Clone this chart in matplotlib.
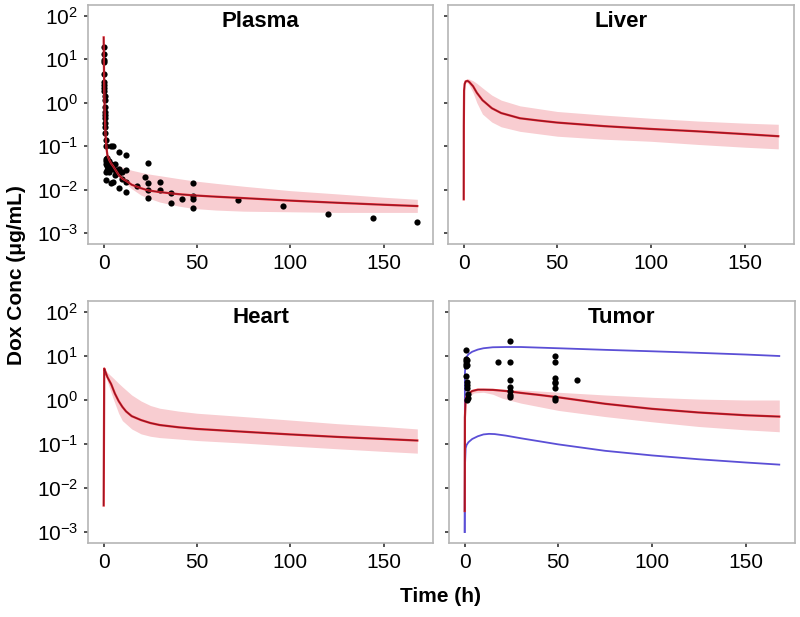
import numpy as np
import matplotlib
matplotlib.use("Agg")
import matplotlib.pyplot as plt
from matplotlib.ticker import FixedLocator, NullLocator

plt.rcParams['font.family'] = ['Liberation Sans', 'DejaVu Sans']
plt.rcParams['mathtext.fontset'] = 'custom'
plt.rcParams['mathtext.rm'] = 'Liberation Sans'
plt.rcParams['mathtext.it'] = 'Liberation Sans:italic'
plt.rcParams['mathtext.bf'] = 'Liberation Sans:bold'
plt.rcParams['mathtext.default'] = 'regular'

# ---------------- data ----------------
# Plasma
plasma_t = [0, 0.1, 0.25, 0.5, 1, 1.5, 2, 3, 4, 5, 6, 8, 10, 12, 15, 20, 24, 30, 40, 48, 60, 75, 100, 125, 150, 168]
plasma_med = [32, 10, 3, 0.7, 0.18, 0.09, 0.062, 0.048, 0.040, 0.035, 0.030, 0.022, 0.018, 0.016, 0.013, 0.0108,
              0.0096, 0.0088, 0.0079, 0.0074, 0.0069, 0.0064, 0.0056, 0.0050, 0.0045, 0.0042]
plasma_band_t = [0, 0.5, 1, 2, 4, 6, 8, 10, 12, 15, 20, 24, 30, 40, 48, 60, 75, 100, 125, 150, 168]
plasma_hi = [32, 0.75, 0.2, 0.066, 0.046, 0.040, 0.036, 0.033, 0.031, 0.028, 0.025, 0.023, 0.021, 0.018, 0.016,
             0.014, 0.012, 0.0095, 0.008, 0.0067, 0.006]
plasma_lo = [32, 0.65, 0.16, 0.058, 0.036, 0.026, 0.019, 0.016, 0.0135, 0.0105, 0.0075, 0.0064, 0.0052, 0.0042,
             0.0037, 0.0034, 0.0032, 0.0031, 0.0030, 0.0030, 0.0030]
plasma_obs_t = [0.083, 0.083, 0.083, 0.083, 0.25, 0.25, 0.25, 0.25, 0.25, 0.5, 0.5, 0.5, 0.5, 0.5, 0.5, 0.75, 0.75,
                0.75, 1, 1,
                1, 1, 1, 1, 1.5, 2, 2, 2, 2, 3, 3, 3, 4, 4, 4, 4, 5, 5, 5, 6, 6, 6, 8, 8, 8, 8, 10, 10, 12, 12, 12, 12,
                18, 22, 24, 24, 24, 24, 30, 30, 36, 36, 42, 48, 48, 48, 48, 72, 96, 120, 144, 168]
plasma_obs_c = [19, 13.4, 9.8, 8.7, 4.5, 3.0, 2.6, 2.2, 1.9, 1.4, 1.16, 0.81, 0.6, 0.52, 0.44, 0.35, 0.28, 0.2,
                0.14, 0.1,
                0.05, 0.045, 0.038, 0.025, 0.017, 0.055, 0.042, 0.035, 0.028, 0.045, 0.032, 0.025, 0.1, 0.04, 0.03,
                0.014, 0.1, 0.035, 0.015, 0.04, 0.028, 0.022, 0.074, 0.03, 0.024, 0.0107, 0.025, 0.018, 0.062, 0.028,
                0.015, 0.0089, 0.0123, 0.02, 0.042, 0.014, 0.0096, 0.0065, 0.015, 0.0096, 0.0083, 0.0049, 0.0062,
                0.0145, 0.0070, 0.0062, 0.0037, 0.0057, 0.0043, 0.0027, 0.0022, 0.0018]

# Liver
liver_t = [0, 0.05, 0.2, 0.5, 1, 2, 3, 5, 7, 10, 15, 20, 30, 40, 50, 75, 100, 125, 150, 168]
liver_med = [0.006, 0.3, 1.9, 2.7, 3.1, 3.2, 3.0, 2.4, 1.7, 1.15, 0.75, 0.58, 0.44, 0.39, 0.35, 0.29, 0.25, 0.22,
             0.19, 0.17]
liver_band_t = [0.5, 1, 2, 3, 5, 7, 10, 15, 20, 30, 50, 75, 100, 125, 150, 168]
liver_hi = [2.9, 3.4, 3.6, 3.5, 3.2, 2.8, 2.2, 1.5, 1.15, 0.85, 0.63, 0.52, 0.44, 0.38, 0.34, 0.32]
liver_lo = [2.5, 2.9, 2.9, 2.5, 1.7, 1.0, 0.55, 0.36, 0.28, 0.22, 0.17, 0.145, 0.13, 0.11, 0.095, 0.087]

# Heart
heart_t = [0, 0.3, 1, 2, 4, 6, 8, 10, 12, 15, 20, 25, 30, 40, 50, 75, 100, 125, 150, 168]
heart_med = [0.004, 5.2, 4.3, 3.3, 2.3, 1.4, 0.95, 0.7, 0.55, 0.43, 0.35, 0.30, 0.27, 0.24, 0.22, 0.19, 0.165,
             0.145, 0.13, 0.12]
heart_band_t = [0.3, 2, 5, 8, 10, 15, 20, 25, 30, 40, 50, 75, 100, 125, 150, 168]
heart_hi = [5.3, 4.2, 3.2, 2.4, 2.0, 1.3, 0.95, 0.75, 0.65, 0.56, 0.50, 0.42, 0.35, 0.29, 0.25, 0.22]
heart_lo = [5.1, 2.6, 1.1, 0.5, 0.34, 0.22, 0.17, 0.15, 0.14, 0.13, 0.12, 0.105, 0.09, 0.078, 0.068, 0.062]

# Tumor
tumor_t = [0, 0.1, 0.5, 1, 2, 4, 7, 10, 15, 22, 30, 40, 50, 75, 100, 125, 150, 168]
tumor_med = [0.003, 0.4, 1.0, 1.2, 1.4, 1.6, 1.72, 1.72, 1.7, 1.6, 1.45, 1.3, 1.15, 0.82, 0.63, 0.52, 0.45, 0.42]
tumor_band_t = [0.5, 2, 5, 10, 15, 20, 30, 50, 75, 100, 125, 150, 168]
tumor_hi = [1.1, 1.6, 1.8, 1.8, 1.78, 1.75, 1.7, 1.5, 1.3, 1.15, 1.05, 1.0, 1.0]
tumor_lo = [0.9, 1.2, 1.45, 1.5, 1.35, 1.1, 0.85, 0.58, 0.42, 0.32, 0.25, 0.21, 0.19]
tumor_up_t = [0, 0.1, 0.5, 1, 2, 4, 7, 10, 15, 22, 30, 50, 75, 100, 125, 150, 168]
tumor_up = [0.001, 4, 8, 9.5, 11, 12.5, 14, 15, 15.8, 16, 16, 15, 13.8, 12.8, 11.8, 10.8, 10]
tumor_low_t = [0, 0.1, 0.5, 1, 2, 4, 7, 10, 13, 16, 22, 30, 40, 50, 75, 100, 125, 150, 168]
tumor_low = [0.001, 0.03, 0.08, 0.095, 0.11, 0.13, 0.15, 0.165, 0.17, 0.168, 0.155, 0.135, 0.115, 0.098, 0.07,
             0.055, 0.045, 0.038, 0.034]
tumor_obs_t = [0.5, 0.5, 0.5, 0.5, 0.5, 0.5, 1, 1, 1, 1, 1, 1, 2, 2, 18, 24, 24, 24, 24, 24, 24, 24,
               48, 48, 48, 48, 48, 48, 48, 48, 60]
tumor_obs_c = [13.5, 8.5, 7.6, 6.7, 5.9, 3.6, 8.0, 6.3, 2.6, 2.2, 1.9, 1.0, 1.4, 1.1, 7.4, 21.7, 7.4, 2.8, 2.0,
               1.6, 1.3, 1.2, 10.2, 7.2, 3.2, 2.6, 2.4, 1.9, 1.1, 1.0, 2.8]

titles = ["Plasma", "Liver", "Heart", "Tumor"]
ytick_vals = [1e-3, 1e-2, 1e-1, 1e0, 1e1, 1e2]
ytick_labels = ["$10^{-3}$", "$10^{-2}$", "$10^{-1}$", "$10^{0}$", "$10^{1}$", "$10^{2}$"]
xtick_vals = [0, 50, 100, 150]

# ---------------- style ----------------
RED = '#e0202a'
DARK = '#7a1525'
BAND = '#f8cdd1'
BLUE = '#5b4fd6'
FRAME = '#b5b5b5'

fig = plt.figure(figsize=(8.0, 6.17), dpi=100)
W, H = 800, 617
boxes = [(88, 5, 433, 244), (448, 5, 794, 244), (88, 301, 433, 543), (449, 301, 795, 543)]
axes = []
for (x0, y0, x1, y1) in boxes:
    ax = fig.add_axes([x0 / W, 1 - y1 / H, (x1 - x0) / W, (y1 - y0) / H])
    axes.append(ax)


def draw_med(ax, t, v):
    ax.plot(t, v, color=RED, lw=1.6, zorder=3, solid_joinstyle='round')
    ax.plot(t, v, color=DARK, lw=0.6, zorder=4, solid_joinstyle='round')


ax = axes[0]
ax.fill_between(plasma_band_t, plasma_lo, plasma_hi, color=BAND, lw=0, zorder=1)
ax.scatter(plasma_obs_t, plasma_obs_c, s=20, color='black', zorder=2, lw=0)
draw_med(ax, plasma_t, plasma_med)

ax = axes[1]
ax.fill_between(liver_band_t, liver_lo, liver_hi, color=BAND, lw=0, zorder=1)
draw_med(ax, liver_t, liver_med)

ax = axes[2]
ax.fill_between(heart_band_t, heart_lo, heart_hi, color=BAND, lw=0, zorder=1)
draw_med(ax, heart_t, heart_med)

ax = axes[3]
ax.fill_between(tumor_band_t, tumor_lo, tumor_hi, color=BAND, lw=0, zorder=1)
ax.plot(tumor_up_t, tumor_up, color=BLUE, lw=1.3, zorder=3)
ax.plot(tumor_low_t, tumor_low, color=BLUE, lw=1.3, zorder=3)
draw_med(ax, tumor_t, tumor_med)
ax.scatter(tumor_obs_t, tumor_obs_c, s=20, color='black', zorder=5, lw=0)

for i, ax in enumerate(axes):
    ax.set_yscale('log')
    ax.set_xlim(-8.4, 176.4)
    ax.set_ylim(10 ** -3.25, 10 ** 2.25)
    ax.yaxis.set_major_locator(FixedLocator(ytick_vals))
    ax.yaxis.set_minor_locator(NullLocator())
    ax.set_xticks(xtick_vals)
    for s in ax.spines.values():
        s.set_color(FRAME)
        s.set_linewidth(1.2)
    ax.tick_params(axis='both', direction='out', length=3, width=1.2, color='#333333',
                   labelsize=15, pad=4)
    if i in (0, 2):
        ax.set_yticklabels(ytick_labels)
    else:
        ax.set_yticklabels([])
    ax.set_xticklabels([str(v) for v in xtick_vals])
    ax.text(0.5, 0.93, titles[i], transform=ax.transAxes, ha='center', va='center',
            fontsize=16, fontweight='bold')

fig.text(440 / W, 1 - 597 / H, "Time (h)", ha='center', va='center', fontsize=15, fontweight='bold')
fig.text(17 / W, 1 - 275 / H, "Dox Conc (μg/mL)", ha='center', va='center', fontsize=15,
         fontweight='bold', rotation=90)

fig.savefig("out.png", dpi=100)
